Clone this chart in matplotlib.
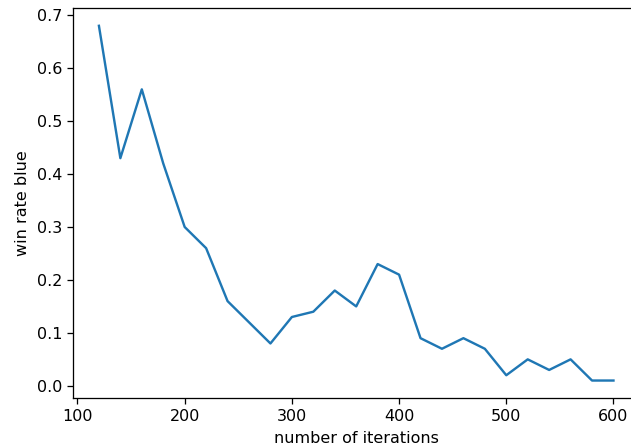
import matplotlib
matplotlib.use("Agg")
import matplotlib.pyplot as plt

iterations = [120, 140, 160, 180, 200, 220, 240, 260, 280, 300, 320, 340, 360,
              380, 400, 420, 440, 460, 480, 500, 520, 540, 560, 580, 600]
win_rate = [0.68, 0.43, 0.56, 0.42, 0.30, 0.26, 0.16, 0.12, 0.08, 0.13, 0.14, 0.18, 0.15,
            0.23, 0.21, 0.09, 0.07, 0.09, 0.07, 0.02, 0.05, 0.03, 0.05, 0.01, 0.01]

dpi = 115
fig = plt.figure(figsize=(631 / dpi, 448 / dpi), dpi=dpi)
# right edge of the axes runs past the figure (reference is cropped on the right)
ax = fig.add_axes([0.116, 0.111, 0.897, 0.871])
ax.plot(iterations, win_rate)
ax.spines['right'].set_visible(False)
ax.set_xlabel("number of iterations")
ax.set_ylabel("win rate blue")
fig.savefig("out.png", dpi=dpi)
